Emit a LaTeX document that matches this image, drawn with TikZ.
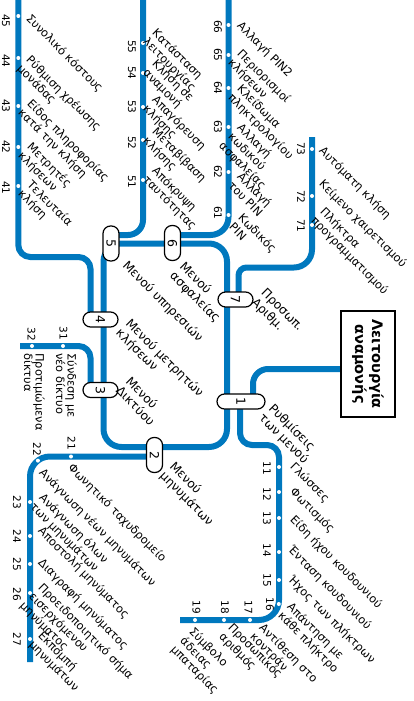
\documentclass[tikz,border=0pt]{standalone}
\usepackage{fontspec}
\setmainfont{DejaVu Sans}
\definecolor{metro}{RGB}{0,120,190}
\begin{document}
\begin{tikzpicture}[x=1pt, y=-1pt,
    line/.style={draw=metro, line width=6pt, rounded corners=15pt},
    stn/.style={circle, fill=white, inner sep=0pt, minimum size=4pt},
    num/.style={rotate=-90, inner sep=0pt, font=\fontsize{10.5}{12}\selectfont},
    lab/.style={rotate=-45, anchor=north west, align=left, inner sep=0pt, font=\fontsize{11.4}{12.8}\selectfont},
    labv/.style={rotate=-90, anchor=north west, align=left, inner sep=0pt, font=\fontsize{11.4}{11.5}\selectfont},
    menu/.style={lab, font=\fontsize{12.2}{13.8}\selectfont},
    pillv/.style={draw, fill=white, line width=1.2pt, rounded corners=7.5pt, rotate=-90, inner sep=0pt,
                  minimum width=35pt, minimum height=16pt, font=\fontsize{12.5}{14}\selectfont},
    pillh/.style={pillv, minimum width=15pt, minimum height=35pt}]
    \useasboundingbox (0,0) rectangle (413,701);
    % trunk
    \draw[line, rounded corners=18pt] (103.5,320) -- (103.5,243.5) -- (227,243.5) -- (227,447) -- (103.5,447) -- cycle;
    % branches
    \draw[line] (111,235) -- (143,235) -- (143,0);
    \draw[line, rounded corners=18pt] (172.5,235) -- (228.5,235) -- (228.5,0);
    \draw[line, rounded corners=8pt] (238.5,299.5) -- (238.5,267.5) [rounded corners=18pt] -- (312,267.5) -- (312,137);
    \draw[line] (253,401.5) -- (253,369) -- (341,369);
    \draw[line, rounded corners=12pt] (240,401.5) -- (240,445) -- (279,445) [rounded corners=20pt] -- (279,620) -- (180,620);
    \draw[line, rounded corners=20pt] (154.5,456.5) -- (30,456.5) -- (30,662);
    \draw[line, rounded corners=12pt] (90.5,390) -- (90.5,346) -- (20,346);
    \draw[line, rounded corners=12pt] (90.5,319.5) -- (90.5,257) -- (18.3,257) -- (18.3,0);
    % line 4x
    \node[stn] (s45) at (18.3,16) {};  \node[num] at (6,21) {45};  \node[lab] (t45) at (32,13) {Συνολικό κόστους};
    \node[stn] (s44) at (18.3,58) {};  \node[num] at (6,61) {44};  \node[lab] (t44) at (32,54) {Ρύθμιση χρέωσης\\μονάδας};
    \node[stn] (s43) at (18.3,106) {}; \node[num] at (6,106) {43}; \node[lab] (t43) at (33,98) {Είδος πληροφορίας\\κατά την κλήση};
    \node[stn] (s42) at (18.3,147) {}; \node[num] at (6,147) {42}; \node[lab] (t42) at (33,141) {Μετρητές\\κλήσεων};
    \node[stn] (s41) at (18.3,186) {}; \node[num] at (6,188) {41}; \node[lab] (t41) at (33,179) {Τελευταία\\κλήση};
    % line 5x
    \node[stn] (s55) at (143,43) {};  \node[num] at (132,47) {55};  \node[lab] (t55) at (158,27) {Κατάσταση\\λειτουργίας};
    \node[stn] (s54) at (143,73) {};  \node[num] at (132,73) {54};  \node[lab] (t54) at (158,58) {Κλήση σε\\αναμονή};
    \node[stn] (s53) at (143,107) {}; \node[num] at (132,107) {53}; \node[lab] (t53) at (158,94) {Απαγόρευση\\κλήσης};
    \node[stn] (s52) at (143,140) {}; \node[num] at (132,143) {52}; \node[lab] (t52) at (158,126) {Μεταβίβαση\\κλήσης};
    \node[stn] (s51) at (143,180) {}; \node[num] at (132,182) {51}; \node[lab] (t51) at (158,165) {Απόκρυψη\\ταυτότητας};
    % line 6x
    \node[stn] (s66) at (228.5,25) {};  \node[num] at (218,27) {66};  \node[lab] (t66) at (243,20) {Αλλαγή PIN2};
    \node[stn] (s65) at (228.5,55) {};  \node[num] at (218,55) {65};  \node[lab] (t65) at (243,48) {Περιορισμοί\\κλήσεων};
    \node[stn] (s64) at (228.5,88) {};  \node[num] at (218,88) {64};  \node[lab] (t64) at (243,83) {Κλείδωμα\\πληκτρολογίου};
    \node[stn] (s63) at (228.5,127) {}; \node[num] at (218,127) {63}; \node[lab] (t63) at (243,122) {Αλλαγή\\κωδικού\\ασφαλείας};
    \node[stn] (s62) at (228.5,172) {}; \node[num] at (218,172) {62}; \node[lab] (t62) at (243,171) {Αλλαγή\\του PIN};
    \node[stn] (s61) at (228.5,215) {}; \node[num] at (218,213) {61}; \node[lab] (t61) at (244,212) {Κωδικός\\PIN};
    % line 7x
    \node[stn] (s73) at (312,149) {}; \node[num] at (301,149) {73}; \node[lab] (t73) at (325,145) {Αυτόματη κλήση};
    \node[stn] (s72) at (312,196) {}; \node[num] at (301,197) {72}; \node[lab] (t72) at (325,178) {Κείμενο χαιρετισμού};
    \node[stn] (s71) at (312,225) {}; \node[num] at (301,226) {71}; \node[lab] (t71) at (326,206) {Πλήκτρα\\προγραμματισμού};
    % line 1x
    \node[stn] (s11) at (279,467) {};   \node[num] at (267,468) {11}; \node[lab] (t11) at (296,461) {Γλώσσες};
    \node[stn] (s12) at (279,492) {};   \node[num] at (267,494) {12}; \node[lab] (t12) at (296,486) {Φωτισμός};
    \node[stn] (s13) at (279,518) {};   \node[num] at (267,518) {13}; \node[lab] (t13) at (296,514) {Είδη ήχου κουδουνιού};
    \node[stn] (s14) at (279,552) {};   \node[num] at (267,550) {14}; \node[lab] (t14) at (294,544) {Ένταση κουδουνιού};
    \node[stn] (s15) at (279,580) {};   \node[num] at (267,580) {15}; \node[lab] (t15) at (294,574) {Ήχος των πλήκτρων};
    \node[stn] (s16) at (278.8,604) {}; \node[num] at (270,604) {16}; \node[lab] (t16) at (293,601) {Απάντηση με\\κάθε πλήκτρο};
    \node[stn] (s17) at (250,620) {};   \node[num] at (248.5,607) {17}; \node[lab] (t17) at (265,622) {Αντίθεση στο\\κοντράν};
    \node[stn] (s18) at (224,620) {};   \node[num] at (225,607) {18}; \node[lab] (t18) at (234,622) {Προσωπικός\\αριθμός};
    \node[stn] (s19) at (195,620) {};   \node[num] at (196.5,607) {19}; \node[lab] (t19) at (195,626) {Σύμβολο\\άδειας\\μπαταρίας};
    % line 2x
    \node[stn] (s21) at (71,456.5) {};   \node[num] at (71.5,443) {21}; \node[lab] (t21) at (74,462) {Φωνητικό ταχυδρομείο};
    \node[stn] (s22) at (37.9,460.6) {}; \node[num] at (37,449) {22};   \node[lab] (t22) at (45,467) {Ανάγνωση νέων μηνυμάτων};
    \node[stn] (s23) at (30,502) {}; \node[num] at (17,502) {23}; \node[lab] (t23) at (45,492) {Ανάγνωση όλων\\των μηνυμάτων};
    \node[stn] (s24) at (30,536) {}; \node[num] at (17,536) {24}; \node[lab] (t24) at (44,525) {Αποστολή μηνύματος};
    \node[stn] (s25) at (30,564) {}; \node[num] at (17,564) {25}; \node[lab] (t25) at (44,557) {Διαγραφή μηνύματος};
    \node[stn] (s26) at (30,593) {}; \node[num] at (17,594) {26}; \node[lab] (t26) at (44,582) {Προειδοποιητικό σήμα\\εισερχόμενου\\μηνύματος};
    \node[stn] (s27) at (30,639) {}; \node[num] at (17,639) {27}; \node[lab] (t27) at (44,630) {Εκπομπή\\μηνυμάτων};
    % line 3x
    \node[stn] (s31) at (63,346) {}; \node[num] at (63.5,333) {31}; \node[labv] (t31) at (77,353) {Σύνδεση με\\νέο δίκτυο};
    \node[stn] (s32) at (32,346) {}; \node[num] at (31.5,334) {32}; \node[labv] (t32) at (45,353) {Προτιμώμενα\\δίκτυα};
    % menus
    \node[pillv] (b5) at (111,243.5) {5};  \node[menu] (m5) at (129,259) {Μενού υπηρεσιών};
    \node[pillv] (b6) at (172.5,243) {6};  \node[menu] (m6) at (186,260) {Μενού\\ασφαλείας};
    \node[pillh] (b4) at (100.5,319.5) {4}; \node[menu] (m4) at (132,317) {Μενού μετρητών\\κλήσεων};
    \node[pillh] (b3) at (100.5,390) {3};  \node[menu] (m3) at (132,375) {Μενού\\Δικτύου};
    \node[pillv] (b2) at (154.5,455) {2};  \node[menu] (m2) at (176,460) {Μενού\\μηνυμάτων};
    \node[pillh] (b7) at (235.5,299.5) {7}; \node[menu] (m7) at (267,287) {Προσωπ.\\Αριθμ.};
    \node[pillh, minimum height=48pt] (b1) at (241,401.5) {1}; \node[menu] (m1) at (275,402) {Ρυθμίσεις\\των μενού};
    % standby box
    \node[draw, line width=1.5pt, fill=white, rotate=-90, minimum width=106pt, minimum height=54pt, inner sep=0pt,
          align=center, font=\bfseries\fontsize{14.5}{17}\selectfont] (wait) at (368,364) {Λειτουργία\\αναμονής};
\end{tikzpicture}
\end{document}
